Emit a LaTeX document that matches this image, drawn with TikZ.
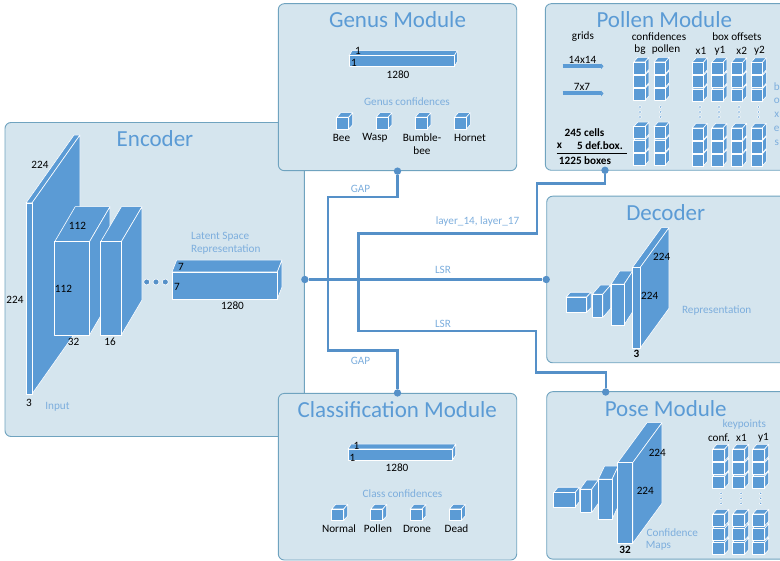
\documentclass[tikz,border=0pt]{standalone}
\usepackage{fontspec}
\setmainfont{Carlito}
\usetikzlibrary{arrows.meta}
\definecolor{panelfill}{HTML}{D5E5EE}
\definecolor{paneledge}{HTML}{6FA3BF}
\definecolor{cubeblue}{HTML}{5B9BD5}
\definecolor{wireblue}{HTML}{5590C8}
\definecolor{softblue}{HTML}{7DAEDD}
\tikzset{
    panel/.style={draw=paneledge, fill=panelfill, line width=0.9pt, rounded corners=6pt, inner sep=0pt},
    paneltitle/.style={text=cubeblue, font=\fontsize{23}{25}\selectfont, inner sep=0pt},
    dim/.style={text=black, font=\fontsize{11.2}{13}\selectfont, inner sep=0pt},
    note/.style={text=softblue, font=\fontsize{11.2}{13}\selectfont, inner sep=0pt},
    sumtext/.style={text=black, font=\fontsize{11.2}{13}\selectfont\bfseries, inner sep=0pt},
    cubeface/.style={fill=cubeblue, draw=white, line width=0.6pt, line join=round},
    wire/.style={draw=wireblue, line width=2.8pt, line join=miter},
    thinwire/.style={draw=wireblue, line width=2.2pt, line join=miter},
    port/.style={circle, fill=wireblue, minimum size=7.4pt, inner sep=0pt},
    gridarrow/.style={draw=cubeblue, line width=4pt, -{Triangle[length=2.5pt,width=5.5pt]}},
    vdot/.style={fill=cubeblue, draw=white, line width=0.5pt}
}
% front corner x,y then width, height, depth x, depth y
\newcommand{\cuboid}[6]{
    \draw[cubeface] (#1,#2) -- ++(#5,-#6) -- ++(#3,0) -- ++(-#5,#6) -- cycle;
    \draw[cubeface] (#1,#2) ++(#3,0) -- ++(#5,-#6) -- ++(0,#4) -- ++(-#5,#6) -- cycle;
    \draw[cubeface] (#1,#2) rectangle ++(#3,#4);
}
\begin{document}
\begin{tikzpicture}[x=1pt,y=-1pt]
    \clip (0,0) rectangle (780,561);
    % panels
    \node[panel, minimum width=299.4pt, minimum height=314pt] (encoder) at (154.7,279.5) {};
    \node[panel, minimum width=238.4pt, minimum height=167pt] (genus) at (397.5,87.2) {};
    \node[panel, minimum width=238.4pt, minimum height=166.6pt] (classif) at (397.5,476.7) {};
    \node[panel, minimum width=260pt, minimum height=166.6pt] (pollen) at (675.3,87) {};
    \node[panel, minimum width=260pt, minimum height=166.6pt] (decoder) at (676.7,279.5) {};
    \node[panel, minimum width=260pt, minimum height=167.4pt] (pose) at (676.7,475.4) {};
    \node[paneltitle] at (155,138.5) {Encoder};
    \node[paneltitle] at (397.5,20) {Genus Module};
    \node[paneltitle] at (397.3,409.5) {Classification Module};
    \node[paneltitle] at (664.3,20) {Pollen Module};
    \node[paneltitle] at (665.7,212.7) {Decoder};
    \node[paneltitle] at (665.7,409) {Pose Module};

    % encoder
    \cuboid{26}{203}{6}{191}{48}{68}
    \cuboid{54.7}{241.7}{34.8}{93.3}{20.5}{35}
    \cuboid{100.7}{241.7}{20.6}{93.3}{20.7}{35}
    \cuboid{172}{272}{105.3}{27}{4.7}{12}
    \foreach \x in {146.7,156,165.3}
    \draw[fill=wireblue, draw=white, line width=0.6pt] (\x,282) circle (3pt);
    \node[dim] at (40,164.5) {224};
    \node[dim] at (15,299.5) {224};
    \node[dim] at (29,402.5) {3};
    \node[note] at (57.5,406.5) {Input};
    \node[dim] at (77.5,225.5) {112};
    \node[dim] at (63.5,288.5) {112};
    \node[dim] at (73.5,341.5) {32};
    \node[dim] at (110,341.5) {16};
    \node[note, anchor=west] at (191,236.5) {Latent Space};
    \node[note, anchor=west] at (191,250) {Representation};
    \node[dim] at (181,267) {7};
    \node[dim] at (177,287) {7};
    \node[dim] at (232.5,305.5) {1280};

    % genus module
    \cuboid{349}{55.7}{105.3}{11}{3}{5}
    \node[dim] at (358,51) {1};
    \node[dim] at (354,63) {1};
    \node[dim] at (398,74.5) {1280};
    \node[note] at (407,102) {Genus confidences};
    \foreach \x in {336.7,376,415,454.3}
    {\cuboid{\x}{117.3}{12}{12}{4}{4.6}}
    \node[dim] at (341.5,137.5) {Bee};
    \node[dim] at (375,137.5) {Wasp};
    \node[dim] at (422,137.5) {Bumble-};
    \node[dim] at (422,151) {bee};
    \node[dim] at (470,137.5) {Hornet};

    % classification module
    \cuboid{348}{449}{104.7}{11}{3}{5}
    \node[dim] at (356.5,445.5) {1};
    \node[dim] at (352.5,457.5) {1};
    \node[dim] at (397,468) {1280};
    \node[note] at (402.5,493.5) {Class confidences};
    \foreach \x in {331.7,370.7,410,449.3}
    {\cuboid{\x}{509}{12}{11.5}{4}{4.6}}
    \node[dim] at (339,529) {Normal};
    \node[dim] at (378,529) {Pollen};
    \node[dim] at (417,529) {Drone};
    \node[dim] at (456.5,529) {Dead};

    % pollen module
    \node[dim] at (583,36.5) {grids};
    \node[dim] at (659,37) {confidences};
    \node[dim] at (737,36.5) {box offsets};
    \node[dim] at (640,49.5) {bg};
    \node[dim] at (666,49.5) {pollen};
    \node[dim] at (701,51) {x1};
    \node[dim] at (720,51) {y1};
    \node[dim] at (741.7,51) {x2};
    \node[dim] at (759.5,51) {y2};
    \node[dim] at (582.5,59.5) {14x14};
    \node[dim] at (582,86.5) {7x7};
    \coordinate (gridA) at (562.7,66.3);
    \coordinate (gridAend) at (603.5,66.3);
    \coordinate (gridB) at (562.7,93.5);
    \coordinate (gridBend) at (603.5,93.5);
    \draw[gridarrow] (gridA) -- (gridAend);
    \draw[gridarrow] (gridB) -- (gridBend);
    \foreach \x in {633.7,654}
    \foreach \y in {153.3,140,126.7,88.6,75.3,62}
    {\cuboid{\x}{\y}{11.3}{12}{4}{4.6}}
    \foreach \x in {692,711.7,731.3,751}
    \foreach \y in {154,141,128,89,75.8,62.5}
    {\cuboid{\x}{\y}{11.3}{12}{4}{4.6}}
    \foreach \x in {640,660.7,700,719,739,758.3}
    \foreach \y in {107,112,117}
    \draw[vdot] (\x,\y) circle (1.4pt);
    \node[sumtext] at (584.5,132.5) {245 cells};
    \node[sumtext, anchor=west] at (556.7,146) {x};
    \node[sumtext, anchor=east] at (623,146) {5 def.box.};
    \coordinate (ruleA) at (556.7,153.7);
    \coordinate (ruleB) at (626.7,153.7);
    \draw[black, line width=0.7pt] (ruleA) -- (ruleB);
    \node[sumtext] at (585,161) {1225 boxes};
    \foreach \y/\c in {86.7/b,101/o,114.7/x,129/e,143/s}
    \node[note] at (776.7,\y) {\c};

    % decoder
    \cuboid{566}{297}{20.7}{15.3}{4.4}{4.7}
    \cuboid{592.3}{294.3}{10.4}{23.4}{8}{9.3}
    \cuboid{611}{284.3}{13}{40.7}{8.7}{13.3}
    \cuboid{632.3}{267.7}{7.7}{80.6}{29}{40}
    \node[dim] at (661.7,257.3) {224};
    \node[dim] at (649.7,296.3) {224};
    \node[sumtext] at (636.5,354.3) {3};
    \node[note] at (716.7,310.3) {Representation};

    % pose module
    \cuboid{553.7}{492.7}{21.3}{14.6}{4.3}{5.4}
    \cuboid{580}{489.3}{11.7}{23.4}{6.6}{9.3}
    \cuboid{598.3}{479.3}{13.7}{40}{6.3}{13.3}
    \cuboid{617.7}{462.7}{15}{80.6}{29.3}{40}
    \node[dim] at (657.3,453.3) {224};
    \node[dim] at (645.3,491.3) {224};
    \node[sumtext] at (625,550) {32};
    \node[note] at (672.3,532.7) {Confidence};
    \node[note, anchor=west] at (645.7,546.3) {Maps};
    \node[note] at (744.3,424.3) {keypoints};
    \node[dim] at (719,437.5) {conf.};
    \node[dim] at (741.5,437.5) {x1};
    \node[dim] at (763.5,437.5) {y1};
    \foreach \x in {712.7,732.7,752.7}
    \foreach \y in {542.3,528.3,514,476,462.7,449}
    {\cuboid{\x}{\y}{12}{12}{4}{4.6}}
    \foreach \x in {721,741,760.7}
    \foreach \y in {493.3,498.3,503.3}
    \draw[vdot] (\x,\y) circle (1.4pt);

    % connectors
    \node[port] (pollenport) at (605,170.3) {};
    \node[port] (poseport) at (605.7,392) {};
    \node[port] (genusport) at (genus.south) {};
    \node[port] (classifport) at (classif.north) {};
    \node[port] (encoderport) at (encoder.east) {};
    \node[port] (decoderport) at (decoder.west) {};
    \draw[thinwire] (encoderport) -- (decoderport);
    \draw[wire] (genusport) |- (328,197) |- (328,350.5) -| (classifport);
    \draw[wire] (pollenport) |- (537,183.5) |- (358.5,233.5) |- (536,331);
    \draw[thinwire] (358.5,331) -| (536,372.5) -| (poseport);
    \node[note] at (360.5,188.5) {GAP};
    \node[note] at (360.5,360.5) {GAP};
    \node[note] at (477.5,221.5) {layer\_14, layer\_17};
    \node[note] at (443,269.5) {LSR};
    \node[note] at (443,323.5) {LSR};
\end{tikzpicture}
\end{document}
